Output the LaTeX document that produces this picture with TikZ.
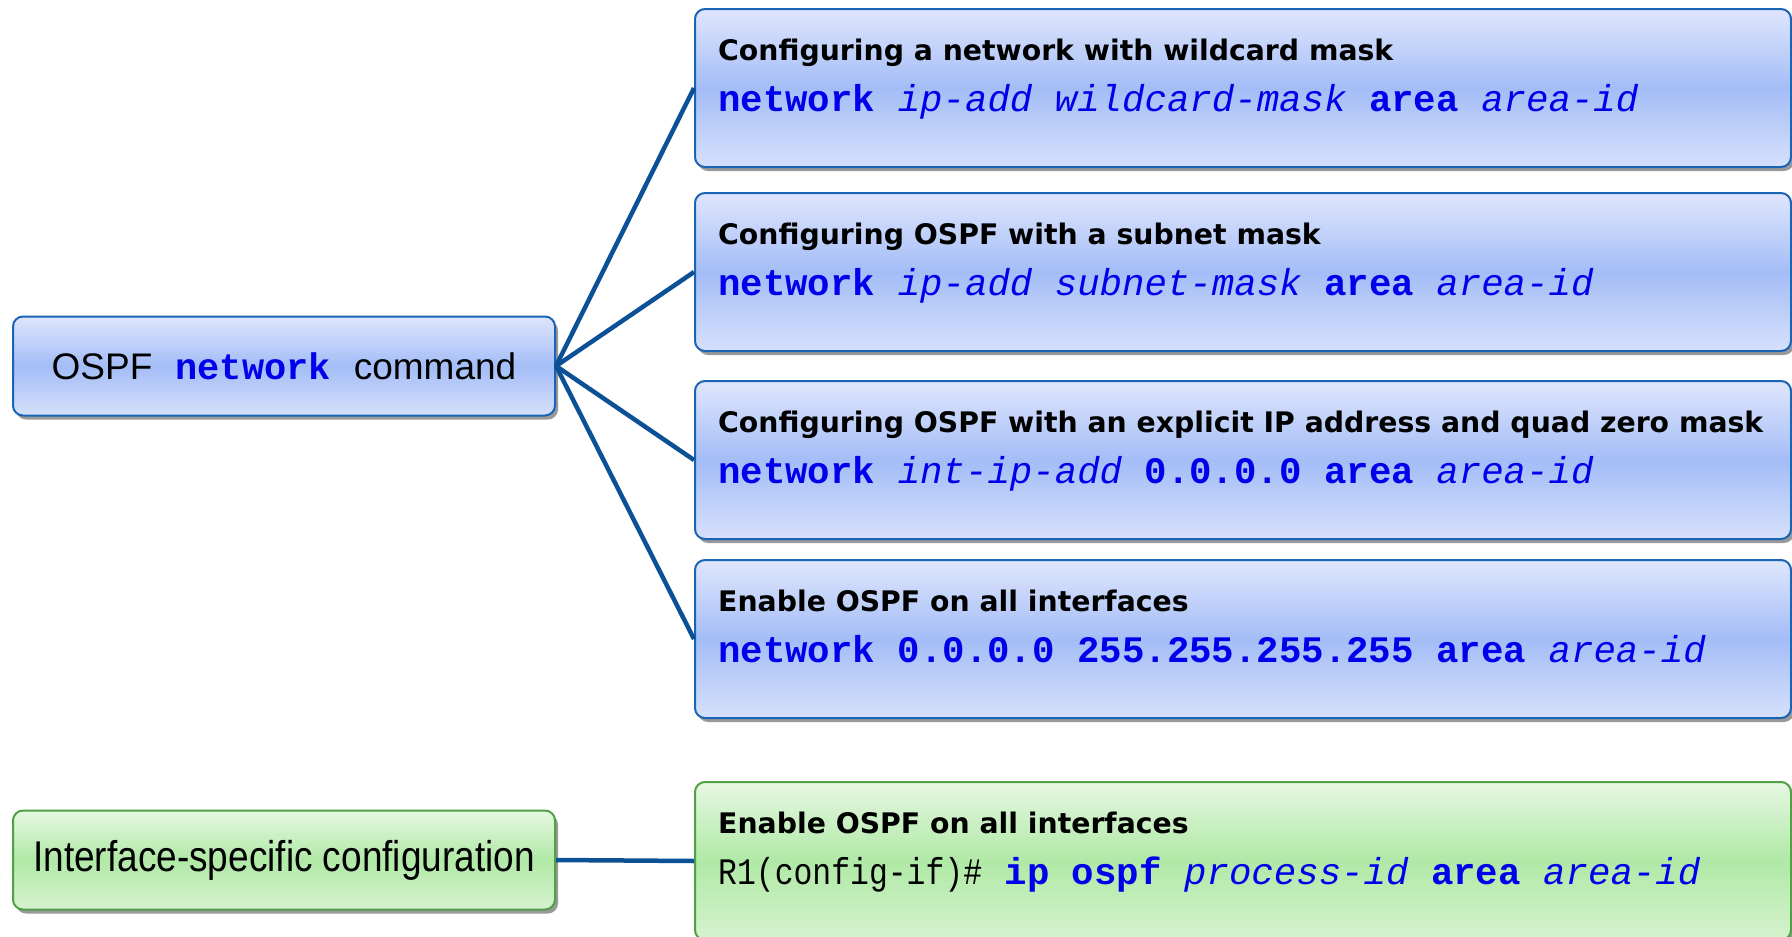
\documentclass[tikz,border=0pt]{standalone}
\usepackage{fontspec}
\setmainfont{Liberation Sans}
\setmonofont{Liberation Mono}
\newfontfamily\headfont{DejaVu Sans}
\usetikzlibrary{shadows,calc}

\definecolor{boxblue}{RGB}{25,100,180}
\definecolor{blueTop}{RGB}{223,230,252}
\definecolor{blueMid}{RGB}{164,189,247}
\definecolor{blueBot}{RGB}{214,224,251}
\definecolor{boxgreen}{RGB}{80,160,70}
\definecolor{greenTop}{RGB}{230,247,226}
\definecolor{greenMid}{RGB}{176,233,166}
\definecolor{greenBot}{RGB}{214,242,207}
\definecolor{linkblue}{RGB}{12,80,150}
\definecolor{cmdblue}{RGB}{0,0,235}

\newcommand{\cmdkw}[1]{\textbf{#1}}
\newcommand{\cmdvar}[1]{\textit{#1}}

\begin{document}
\begin{tikzpicture}[x=1pt,y=-1pt]
\tikzstyle{box}=[
  rectangle, rounded corners=10pt, line width=2pt, inner sep=0pt,
  shading=axis,
  drop shadow={shadow xshift=3pt, shadow yshift=-4pt, fill=black!40, opacity=1} ]
\tikzstyle{bluebox}=[box, draw=boxblue,
  top color=blueTop, bottom color=blueBot, middle color=blueMid]
\tikzstyle{greenbox}=[box, draw=boxgreen,
  top color=greenTop, bottom color=greenBot, middle color=greenMid]
\tikzstyle{leftbox}=[minimum width=542pt, minimum height=99pt,
  font=\fontsize{37}{40}\selectfont]
\tikzstyle{rightbox}=[minimum width=1096pt, minimum height=158pt, anchor=north west]
\tikzstyle{heading}=[anchor=base west, inner sep=0pt,
  font=\headfont\bfseries\fontsize{28.3}{30}\selectfont]
\tikzstyle{cmdline}=[anchor=base west, inner sep=0pt, text=cmdblue,
  font=\ttfamily\fontsize{37.4}{40}\selectfont]
\tikzstyle{link}=[draw=linkblue, line width=4.5pt]

\useasboundingbox (0,0) rectangle (1792,937);

\node[bluebox, leftbox] (ospf) at (284,366)
  {OSPF\hspace{23pt}{\ttfamily\color{cmdblue}\cmdkw{network}}\hspace{23pt}command};
\node[greenbox, leftbox] (intf) at (284,860)
  {\scalebox{0.86}[1]{\fontsize{43}{46}\selectfont Interface-specific configuration}};

\node[bluebox, rightbox] (wild) at (694,8) {};
\node[bluebox, rightbox] (subnet) at (694,192) {};
\node[bluebox, rightbox] (quad) at (694,380) {};
\node[bluebox, rightbox] (all) at (694,559) {};
\node[greenbox, rightbox] (ifcmd) at (694,781) {};

\node[heading] at ($(wild.north west)+(24,52)$)
  {Configuring a network with wildcard mask};
\node[cmdline] at ($(wild.north west)+(24,103)$)
  {\cmdkw{network} \cmdvar{ip-add wildcard-mask} \cmdkw{area} \cmdvar{area-id}};

\node[heading] at ($(subnet.north west)+(24,52)$)
  {Configuring OSPF with a subnet mask};
\node[cmdline] at ($(subnet.north west)+(24,103)$)
  {\cmdkw{network} \cmdvar{ip-add subnet-mask} \cmdkw{area} \cmdvar{area-id}};

\node[heading] at ($(quad.north west)+(24,52)$)
  {Configuring OSPF with an explicit IP address and quad zero mask};
\node[cmdline] at ($(quad.north west)+(24,103)$)
  {\cmdkw{network} \cmdvar{int-ip-add} \cmdkw{0.0.0.0 area} \cmdvar{area-id}};

\node[heading] at ($(all.north west)+(24,52)$)
  {Enable OSPF on all interfaces};
\node[cmdline] at ($(all.north west)+(24,103)$)
  {\cmdkw{network 0.0.0.0 255.255.255.255 area} \cmdvar{area-id}};

\node[heading] at ($(ifcmd.north west)+(24,52)$)
  {Enable OSPF on all interfaces};
\node[cmdline] at ($(ifcmd.north west)+(24,103)$)
  {\scalebox{0.84}[1]{\color{black}R1(config-if)\#} \cmdkw{ip ospf} \cmdvar{process-id} \cmdkw{area} \cmdvar{area-id}};

\draw[link] (ospf.east) -- (wild.west);
\draw[link] (ospf.east) -- (subnet.west);
\draw[link] (ospf.east) -- (quad.west);
\draw[link] (ospf.east) -- (all.west);
\draw[link] (intf.east) -- (ifcmd.west);
\end{tikzpicture}
\end{document}
